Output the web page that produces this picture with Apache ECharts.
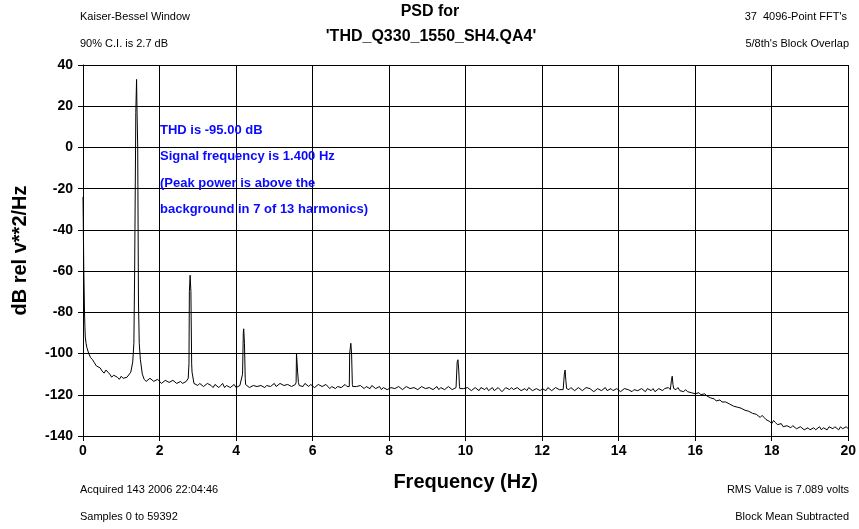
<!DOCTYPE html>
<html>
<head>
<meta charset="utf-8">
<title>PSD</title>
<script src="https://cdn.jsdelivr.net/npm/echarts@6/dist/echarts.min.js"></script>
<style>
  html, body { margin: 0; padding: 0; background: #fff; }
  #myChart { width: 859px; height: 529px; }
</style>
</head>
<body>
<div id="myChart"></div>
<script>
// 频率步长 0.1 Hz，从 0 到 20 Hz 共 201 个点
var baseStep = 0.1
var baseline = [
  -24, -97, -102, -104.5, -106, -108.5, -108, -110, -110.5, -111.5,
  -111, -112, -111, -104, 33, -103, -112.5, -113, -112.5, -114,
  -113.5, -114, -113, -114.5, -113.5, -114, -114.5, -113.5, -62, -114.5,
  -115.5, -114.5, -116, -115, -116.5, -115, -115.5, -116.5, -115.5, -116,
  -116.5, -115.5, -88, -115.5, -116, -115, -116.5, -115, -115.5, -116,
  -114.5, -115.5, -114.5, -116, -115, -115.5, -99.5, -115, -114.5, -116,
  -115.5, -116.5, -115, -116.5, -115.5, -116, -117, -115.5, -116.5, -116,
  -95, -115.5, -116.5, -115.5, -116, -117, -116, -116.5, -117.5, -116.5,
  -117, -116, -117.5, -116.5, -117, -116.5, -117.5, -116, -117, -116.5,
  -117.5, -116.5, -117, -117.5, -116, -117, -116.5, -117, -103, -116.5,
  -117.5, -116.5, -117.5, -117, -116.5, -117.5, -118, -116.5, -117.5, -117,
  -118, -117, -116.5, -118, -117, -117.5, -118, -117, -118.5, -117.5,
  -117, -118, -117, -117.5, -116.5, -117, -108, -117.5, -116.5, -117.5,
  -117, -117.5, -116.5, -117.5, -118, -117, -117.5, -118, -117, -118.5,
  -117.5, -118, -117, -118, -117.5, -118, -117, -118.5, -117.5, -117,
  -118, -117.5, -117, -116.5, -111, -117.5, -118, -118.5, -118.5, -119,
  -119.5, -119, -120, -120.5, -121.5, -122, -122.5, -123.5, -123.5, -124.5,
  -125.5, -126, -126.5, -127.5, -128, -129, -129.5, -131, -131, -132.5,
  -134, -133.5, -135, -135.5, -135, -136, -135.5, -136.5, -136, -136.5,
  -137, -136, -136.5, -137, -136, -135.5, -136.5, -136, -135.5, -136,
  -136.5
]

// 中间点：0.05 Hz 起，每 0.1 Hz 一个，共 200 个
var midStart = 0.05
var midValues = [
  -87, -100, -103, -106, -107, -109.5, -109, -111.5, -110, -112.5,
  -112, -111.5, -109, -60, -75, -110, -113.5, -112, -113.5, -112.5,
  -114.5, -113, -114, -113, -114.5, -113.5, -115, -112, -109, -115,
  -114.5, -116, -114.5, -115.5, -115, -116.5, -114.5, -115.5, -116.5, -115,
  -116, -115, -115, -116.5, -115.5, -116, -115.5, -116.5, -115, -115.5,
  -116, -114.5, -115.5, -115, -116, -115, -115.5, -116, -115, -115,
  -116.5, -115, -116, -115, -117, -115.5, -116, -116.5, -115, -116.5,
  -116, -116, -115.5, -117, -116.5, -115.5, -117, -116, -116.5, -117.5,
  -116.5, -117, -116, -117.5, -116, -117, -116.5, -117.5, -116, -117,
  -116.5, -117.5, -116, -116.5, -117.5, -116, -117.5, -116.5, -117, -117,
  -116.5, -118, -116.5, -118, -117, -116.5, -117.5, -118, -116.5, -118.5,
  -116.5, -117.5, -117.5, -116.5, -118, -117, -116.5, -118, -117, -118,
  -117.5, -116.5, -118, -116.5, -117.5, -117.5, -117, -116.5, -118, -116.5,
  -118, -116.5, -117, -118.5, -117, -118, -116.5, -117.5, -118, -117,
  -118.5, -117, -117.5, -118.5, -117, -118.5, -117.5, -117, -118, -118.5,
  -117, -118, -116.5, -117.5, -117.5, -116.5, -118.5, -117.5, -119, -118.5,
  -119, -120, -119.5, -121, -121, -123, -122.5, -124, -123, -125,
  -125, -126.5, -126, -128, -127.5, -129.5, -130, -130, -132, -133,
  -132.5, -134.5, -134, -136, -135.5, -135, -136.5, -135.5, -137, -136,
  -136.5, -137, -135.5, -136, -137, -136, -135.5, -137, -136.5, -135.5
]

// 谐波峰附近的细节点 [频率, dB]
var peakDetail = [
  [0.02, -58], [0.04, -80], [0.06, -92], [0.08, -95],
  [1.33, -95], [1.37, -10], [1.38, 17],
  [1.41, 20], [1.43, 0], [1.47, -95],
  [2.77, -105], [2.78, -70], [2.82, -70], [2.84, -105],
  [4.17, -110], [4.19, -90], [4.22, -95], [4.24, -112],
  [5.57, -114], [5.58, -100], [5.61, -109], [5.63, -114],
  [6.96, -116], [6.97, -100], [7.02, -100], [7.04, -115],
  [9.77, -116], [9.78, -104], [9.82, -108], [9.84, -116],
  [12.57, -117], [12.58, -110], [12.62, -113], [12.64, -117],
  [15.37, -117], [15.38, -113], [15.42, -115], [15.44, -117]
]

var xTicks = ['0', '2', '4', '6', '8', '10', '12', '14', '16', '18', '20']

var infoLines = [
  'THD is -95.00 dB',
  'Signal frequency is 1.400 Hz',
  '(Peak power is above the',
  'background in 7 of 13 harmonics)'
]

// 合并基线、中间点和峰值细节，按频率排序
var psd = []
for (var i = 0; i < baseline.length; i++) {
  psd.push([Math.round(i * baseStep * 100) / 100, baseline[i]])
}
for (var j = 0; j < midValues.length; j++) {
  psd.push([Math.round((midStart + j * baseStep) * 100) / 100, midValues[j]])
}
for (var k = 0; k < peakDetail.length; k++) {
  psd.push(peakDetail[k])
}
psd.sort(function (a, b) { return a[0] - b[0] })

var FONT = 'Liberation Sans, Arial, sans-serif'

function smallText (x, y, text, align) {
  return {
    type: 'text',
    left: align === 'right' ? null : x,
    right: align === 'right' ? 859 - x : null,
    top: y - 7,
    style: { text: text, font: '11px ' + FONT, fill: '#000' }
  }
}

var graphics = [
  smallText(80, 18, 'Kaiser-Bessel Window'),
  smallText(80, 45, '90% C.I. is 2.7 dB'),
  smallText(847, 18, '37  4096-Point FFT\'s', 'right'),
  smallText(849, 45, '5/8th\'s Block Overlap', 'right'),
  smallText(80, 491, 'Acquired 143 2006 22:04:46'),
  smallText(80, 518, 'Samples 0 to 59392'),
  smallText(849, 491, 'RMS Value is 7.089 volts', 'right'),
  smallText(849, 518, 'Block Mean Subtracted', 'right'),
  {
    type: 'text', x: 430, y: 12,
    style: { text: 'PSD for', font: 'bold 16px ' + FONT, fill: '#000', align: 'center', verticalAlign: 'middle' }
  },
  {
    type: 'text', x: 431, y: 37,
    style: { text: '\'THD_Q330_1550_SH4.QA4\'', font: 'bold 16px ' + FONT, fill: '#000', align: 'center', verticalAlign: 'middle' }
  }
]
for (var n = 0; n < infoLines.length; n++) {
  graphics.push({
    type: 'text', x: 160, y: 130 + n * 26.5, z: 10,
    style: { text: infoLines[n], font: 'bold 13px ' + FONT, fill: '#0a0aff', verticalAlign: 'middle' }
  })
}

var axisCommon = {
  axisLine: { show: true, onZero: false, lineStyle: { color: '#000', width: 1 } },
  axisTick: { show: true, inside: false, length: 5, lineStyle: { color: '#000' } },
  splitLine: { show: true, lineStyle: { color: '#000', width: 1, type: 'solid' } },
  axisLabel: { color: '#000', fontFamily: FONT, fontWeight: 'bold', fontSize: 14 }
}

var myChart = echarts.init(document.getElementById('myChart'), null, { renderer: 'canvas' })
myChart.setOption({
  animation: false,
  backgroundColor: '#fff',
  grid: { left: 83, right: 9, top: 65, bottom: 93 },
  graphic: graphics,
  xAxis: Object.assign({}, axisCommon, {
    type: 'value',
    min: 0,
    max: 20,
    interval: 2,
    name: 'Frequency (Hz)',
    nameLocation: 'middle',
    nameGap: 36,
    nameTextStyle: { color: '#000', fontFamily: FONT, fontWeight: 'bold', fontSize: 20 },
    axisLabel: Object.assign({}, axisCommon.axisLabel, {
      margin: 8,
      formatter: function (v) { return xTicks[Math.round(v / 2)] }
    })
  }),
  yAxis: Object.assign({}, axisCommon, {
    type: 'value',
    min: -140,
    max: 40,
    interval: 20,
    name: 'dB rel v**2/Hz',
    nameLocation: 'middle',
    nameGap: 53,
    nameTextStyle: { color: '#000', fontFamily: FONT, fontWeight: 'bold', fontSize: 20 },
    axisLabel: Object.assign({}, axisCommon.axisLabel, { margin: 10 })
  }),
  series: [{
    type: 'line',
    data: psd,
    showSymbol: false,
    symbol: 'none',
    sampling: null,
    lineStyle: { color: '#000', width: 1 },
    z: 5
  }]
})
</script>
</body>
</html>
